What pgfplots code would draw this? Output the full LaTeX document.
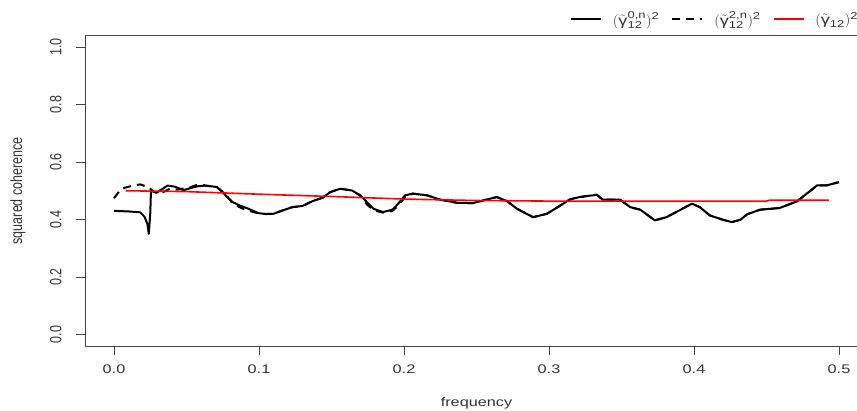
\documentclass[border=0pt]{standalone}
\usepackage{fontspec}
\setmainfont{Liberation Sans}[FakeStretch=1.3]
\newfontfamily\rotfont{Liberation Sans}
\usepackage{graphicx}
\usepackage{pgfplots}
\pgfplotsset{compat=1.18}
\definecolor{axgray}{HTML}{444444}
\definecolor{txtgray}{HTML}{333333}
\newcommand\sm[1]{\mbox{\fontsize{10}{11}\selectfont #1}}
\newcommand\ry[1]{\rotfont\scalebox{1}[1.3]{#1}}
\begin{document}
\begin{tikzpicture}
\begin{axis}[
 scale only axis, width=783pt, height=310.5pt,
 xmin=-0.02, xmax=0.52, ymin=-0.04, ymax=1.04,
 xtick={0,0.1,0.2,0.3,0.4,0.5},
 xticklabels={0.0,0.1,0.2,0.3,0.4,0.5},
 ytick={0,0.2,0.4,0.6,0.8,1.0},
 yticklabels={\ry{0.0},\ry{0.2},\ry{0.4},\ry{0.6},\ry{0.8},\ry{1.0}},
 tick align=outside, major tick length=9pt,
 xtick pos=left, ytick pos=left,
 axis line style={axgray, line width=0.8pt},
 every tick/.style={axgray, line width=0.8pt},
 tick label style={font=\fontsize{12.5}{14}\selectfont, text=txtgray},
 yticklabel style={rotate=90, anchor=south},
 yticklabel shift=11pt,
 xticklabel shift=6pt,
 label style={font=\fontsize{12.5}{14}\selectfont, text=txtgray},
 xlabel={frequency},
 ylabel={\ry{squared coherence}},
 xlabel style={at={(axis description cs:0.5,-0.184)}, anchor=center},
 ylabel style={at={(axis description cs:-0.0856,0.5)}, anchor=center},
 legend columns=3,
 legend image code/.code={\draw[#1] (0pt,0pt) -- (30pt,0pt);},
 legend style={draw=none, fill=none, inner sep=0pt, outer sep=0pt,
   at={(axis description cs:0.6194,1.053)}, anchor=west,
   font=\fontsize{14}{16}\selectfont, text=txtgray,
   /tikz/every odd column/.append style={column sep=9pt},
   /tikz/every even column/.append style={column sep=10pt}},
]
\addplot[black, line width=2pt, line join=round] coordinates {
(0.000,0.430) (0.010,0.428) (0.018,0.425) (0.021,0.410) (0.023,0.385) (0.024,0.350)
(0.0250,0.420) (0.0255,0.500) (0.0294,0.493) (0.033,0.505) (0.037,0.518) (0.042,0.514)
(0.048,0.502) (0.052,0.508) (0.057,0.515) (0.063,0.518) (0.071,0.513) (0.0745,0.497)
(0.078,0.478) (0.082,0.460) (0.087,0.448) (0.092,0.439) (0.0995,0.422) (0.105,0.419)
(0.110,0.420) (0.1166,0.432) (0.123,0.443) (0.130,0.447) (0.137,0.464) (0.144,0.476)
(0.149,0.495) (0.156,0.507) (0.164,0.501) (0.170,0.484) (0.1745,0.460) (0.179,0.437)
(0.1855,0.426) (0.192,0.434) (0.196,0.455) (0.2007,0.484) (0.206,0.490) (0.216,0.484)
(0.225,0.469) (0.2366,0.458) (0.2476,0.457) (0.2545,0.466) (0.264,0.478) (0.271,0.464)
(0.278,0.437) (0.289,0.408) (0.2986,0.420) (0.3076,0.448) (0.3145,0.470) (0.321,0.478)
(0.333,0.486) (0.337,0.469) (0.349,0.469) (0.356,0.443) (0.363,0.434) (0.373,0.397)
(0.381,0.408) (0.390,0.432) (0.3986,0.455) (0.404,0.443) (0.411,0.414) (0.420,0.399)
(0.426,0.391) (0.432,0.399) (0.4366,0.418) (0.4455,0.434) (0.459,0.440) (0.471,0.463)
(0.485,0.519) (0.4917,0.519) (0.500,0.530)
};
\addlegendentry{$(\tilde{\mbox{γ}}^{\sm{0,n}}_{\sm{12}})^{\sm{2}}$}
\addplot[black, line width=2pt, dash pattern=on 8pt off 6pt] coordinates {
(0.000,0.474) (0.005,0.507) (0.013,0.518) (0.018,0.522) (0.0234,0.513) (0.028,0.495)
(0.033,0.493) (0.0386,0.507) (0.043,0.504) (0.052,0.511) (0.058,0.522) (0.063,0.518)
(0.071,0.512) (0.0766,0.490) (0.082,0.455) (0.089,0.437) (0.096,0.426) (0.100,0.421)
(0.105,0.419) (0.110,0.420) (0.1166,0.432) (0.123,0.443) (0.130,0.447) (0.137,0.464)
(0.144,0.476) (0.149,0.495) (0.156,0.507) (0.164,0.501) (0.170,0.482) (0.1745,0.452)
(0.179,0.432) (0.1855,0.424) (0.192,0.430) (0.196,0.448) (0.2007,0.478) (0.206,0.490)
(0.216,0.484) (0.225,0.469) (0.2366,0.458) (0.2476,0.457) (0.2545,0.466) (0.264,0.478)
(0.271,0.464) (0.278,0.437) (0.289,0.408) (0.2986,0.420) (0.3076,0.448) (0.3145,0.470)
(0.321,0.478) (0.333,0.486) (0.337,0.469) (0.349,0.469) (0.356,0.443) (0.363,0.434)
(0.373,0.397) (0.381,0.408) (0.390,0.432) (0.3986,0.455) (0.404,0.443) (0.411,0.414)
(0.420,0.399) (0.426,0.391) (0.432,0.399) (0.4366,0.418) (0.4455,0.434) (0.459,0.440)
(0.471,0.463) (0.485,0.519) (0.4917,0.519) (0.500,0.530)
};
\addlegendentry{$(\tilde{\mbox{γ}}^{\sm{2,n}}_{\sm{12}})^{\sm{2}}$}
\addplot[red, line width=1.6pt] coordinates {
(0.008,0.500) (0.050,0.497) (0.100,0.488) (0.150,0.480) (0.200,0.471) (0.250,0.466)
(0.300,0.464) (0.450,0.464) (0.452,0.467) (0.493,0.467)
};
\addlegendentry{$(\tilde{\mbox{γ}}_{\sm{12}})^{\sm{2}}$}
\end{axis}
\pgfresetboundingbox
\useasboundingbox (-85pt,-65pt) rectangle (772pt,346pt);
\end{tikzpicture}
\end{document}
